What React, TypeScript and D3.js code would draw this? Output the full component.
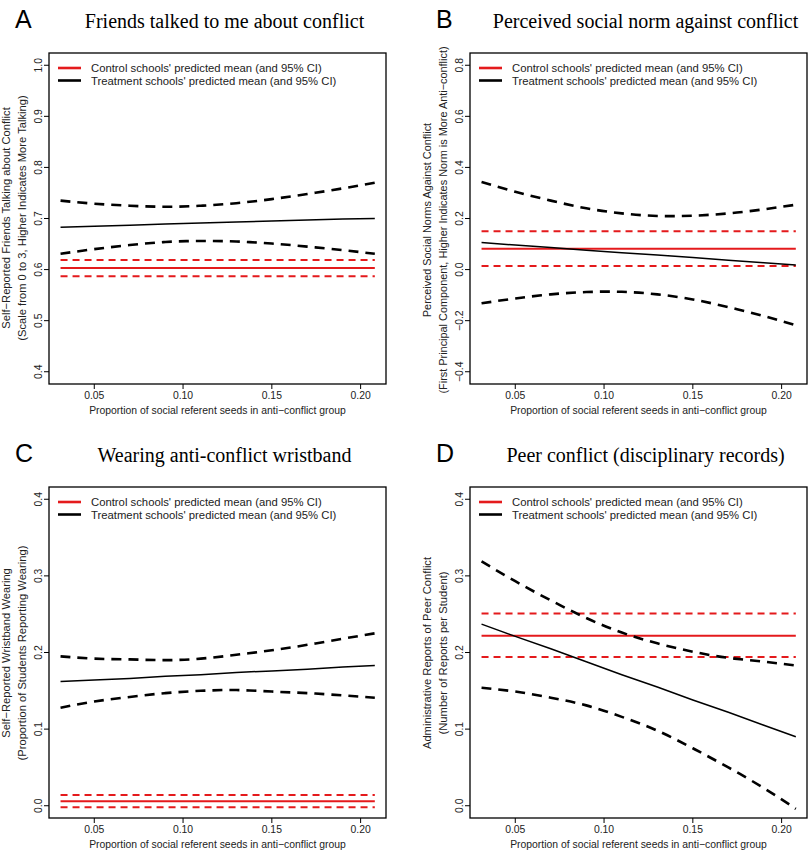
import React from "react";
import * as d3 from "d3";

// ---------- data ----------
const X_VALS = [0.031, 0.05, 0.07, 0.09, 0.11, 0.13, 0.15, 0.17, 0.19, 0.208];
const X_TICKS = [0.05, 0.1, 0.15, 0.2];
const X_TICK_LABELS = ["0.05", "0.10", "0.15", "0.20"];
const X_TITLE = "Proportion of social referent seeds in anti\u2212conflict group";
const LEGEND_LABELS = [
  "Control schools' predicted mean (and 95% CI)",
  "Treatment schools' predicted mean (and 95% CI)",
];

const A_MEAN = [0.683, 0.685, 0.687, 0.689, 0.691, 0.693, 0.695, 0.697, 0.699, 0.7];
const A_UPPER = [0.735, 0.729, 0.725, 0.723, 0.725, 0.73, 0.738, 0.748, 0.759, 0.77];
const A_LOWER = [0.631, 0.64, 0.648, 0.654, 0.656, 0.655, 0.651, 0.645, 0.638, 0.631];
const A_CONTROL = [0.603, 0.587, 0.619]; // mean, lower, upper
const A_TICKS = [0.4, 0.5, 0.6, 0.7, 0.8, 0.9, 1.0];
const A_TICK_LABELS = ["0.4", "0.5", "0.6", "0.7", "0.8", "0.9", "1.0"];

const B_MEAN = [0.106, 0.096, 0.086, 0.076, 0.066, 0.057, 0.047, 0.037, 0.027, 0.018];
const B_UPPER = [0.343, 0.305, 0.27, 0.24, 0.22, 0.21, 0.211, 0.22, 0.236, 0.254];
const B_LOWER = [-0.132, -0.113, -0.097, -0.088, -0.087, -0.097, -0.117, -0.147, -0.182, -0.218];
const B_CONTROL = [0.082, 0.014, 0.15];
const B_TICKS = [-0.4, -0.2, 0.0, 0.2, 0.4, 0.6, 0.8];
const B_TICK_LABELS = ["\u22120.4", "\u22120.2", "0.0", "0.2", "0.4", "0.6", "0.8"];

const C_MEAN = [0.162, 0.164, 0.166, 0.169, 0.171, 0.174, 0.176, 0.178, 0.181, 0.183];
const C_UPPER = [0.195, 0.192, 0.191, 0.19, 0.192, 0.197, 0.203, 0.21, 0.218, 0.225];
const C_LOWER = [0.128, 0.136, 0.142, 0.147, 0.15, 0.151, 0.149, 0.147, 0.144, 0.141];
const C_CONTROL = [0.006, -0.002, 0.014];
const C_TICKS = [0.0, 0.1, 0.2, 0.3, 0.4];
const C_TICK_LABELS = ["0.0", "0.1", "0.2", "0.3", "0.4"];

const D_MEAN = [0.237, 0.221, 0.205, 0.188, 0.171, 0.155, 0.138, 0.122, 0.105, 0.09];
const D_UPPER = [0.319, 0.293, 0.268, 0.245, 0.226, 0.212, 0.201, 0.193, 0.188, 0.183];
const D_LOWER = [0.154, 0.149, 0.141, 0.131, 0.116, 0.098, 0.075, 0.05, 0.023, -0.004];
const D_CONTROL = [0.222, 0.194, 0.251];
const D_TICKS = [0.0, 0.1, 0.2, 0.3, 0.4];
const D_TICK_LABELS = ["0.0", "0.1", "0.2", "0.3", "0.4"];

// ---------- layout ----------
const W = 810;
const H = 853;
const BOX_W = 337;
const BOX_H = 331;
const X_DOMAIN: [number, number] = [0.0245, 0.2143];

const SANS = "'Liberation Sans', Arial, Helvetica, sans-serif";
const SERIF = "'Liberation Serif', 'Times New Roman', serif";
const RED = "#e41a1c";

type PanelDef = {
  letter: string;
  title: string;
  ylab: [string, string];
  ylabSize: number;
  ylabCenter: number;
  yDomain: [number, number];
  yTicks: number[];
  yTickLabels: string[];
  mean: number[];
  upper: number[];
  lower: number[];
  control: number[];
  left: number;
  top: number;
};

const PANELS: PanelDef[] = [
  {
    letter: "A",
    title: "Friends talked to me about conflict",
    ylab: ["Self\u2212Reported Friends Talking about Conflict", "(Scale from 0 to 3, Higher Indicates More Talking)"],
    ylabSize: 11.2,
    ylabCenter: 218,
    yDomain: [0.376, 1.024],
    yTicks: A_TICKS,
    yTickLabels: A_TICK_LABELS,
    mean: A_MEAN,
    upper: A_UPPER,
    lower: A_LOWER,
    control: A_CONTROL,
    left: 49,
    top: 53,
  },
  {
    letter: "B",
    title: "Perceived social norm against conflict",
    ylab: ["Perceived Social Norms Against Conflict", "(First Principal Component, Higher Indicates Norm is More Anti\u2212conflict)"],
    ylabSize: 10.9,
    ylabCenter: 220,
    yDomain: [-0.448, 0.848],
    yTicks: B_TICKS,
    yTickLabels: B_TICK_LABELS,
    mean: B_MEAN,
    upper: B_UPPER,
    lower: B_LOWER,
    control: B_CONTROL,
    left: 470,
    top: 53,
  },
  {
    letter: "C",
    title: "Wearing anti-conflict wristband",
    ylab: ["Self\u2212Reported Wristband Wearing", "(Proportion of Students Reporting Wearing)"],
    ylabSize: 11.2,
    ylabCenter: 653,
    yDomain: [-0.016, 0.416],
    yTicks: C_TICKS,
    yTickLabels: C_TICK_LABELS,
    mean: C_MEAN,
    upper: C_UPPER,
    lower: C_LOWER,
    control: C_CONTROL,
    left: 49,
    top: 487,
  },
  {
    letter: "D",
    title: "Peer conflict (disciplinary records)",
    ylab: ["Administrative Reports of Peer Conflict", "(Number of Reports per Student)"],
    ylabSize: 11.2,
    ylabCenter: 653,
    yDomain: [-0.016, 0.416],
    yTicks: D_TICKS,
    yTickLabels: D_TICK_LABELS,
    mean: D_MEAN,
    upper: D_UPPER,
    lower: D_LOWER,
    control: D_CONTROL,
    left: 470,
    top: 487,
  },
];

function Panel({ p }: { p: PanelDef }) {
  const x = d3.scaleLinear().domain(X_DOMAIN).range([p.left, p.left + BOX_W]);
  const y = d3.scaleLinear().domain(p.yDomain).range([p.top + BOX_H, p.top]);
  const curved = d3
    .line<number>()
    .x((_, i) => x(X_VALS[i]))
    .y((v) => y(v))
    .curve(d3.curveNatural);
  const straight = d3
    .line<number>()
    .x((_, i) => x(X_VALS[i]))
    .y((v) => y(v));
  const flat = (v: number) => straight(X_VALS.map(() => v)) || "";
  const bottom = p.top + BOX_H;
  const cx = p.left + BOX_W / 2;
  return (
    <g>
      {/* panel letter and title */}
      <text x={p.left - 34} y={p.top - 25} fontFamily={SANS} fontSize={25}>
        {p.letter}
      </text>
      <text x={cx + 7} y={p.top - 25} fontFamily={SERIF} fontSize={20} textAnchor="middle">
        {p.title}
      </text>

      {/* control (red) */}
      <path d={flat(p.control[1])} fill="none" stroke={RED} strokeWidth={2} strokeDasharray="7,5" />
      <path d={flat(p.control[2])} fill="none" stroke={RED} strokeWidth={2} strokeDasharray="7,5" />
      <path d={flat(p.control[0])} fill="none" stroke={RED} strokeWidth={2} />

      {/* treatment (black) */}
      <path d={curved(p.upper) || ""} fill="none" stroke="#000" strokeWidth={2.6} strokeDasharray="10,7" />
      <path d={curved(p.lower) || ""} fill="none" stroke="#000" strokeWidth={2.6} strokeDasharray="10,7" />
      <path d={straight(p.mean) || ""} fill="none" stroke="#000" strokeWidth={1.5} />

      {/* box */}
      <rect x={p.left} y={p.top} width={BOX_W} height={BOX_H} fill="none" stroke="#000" strokeWidth={1.3} />

      {/* x axis */}
      {X_TICKS.map((t, i) => (
        <g key={"xt" + i}>
          <line x1={x(t)} x2={x(t)} y1={bottom} y2={bottom + 5} stroke="#000" strokeWidth={1} />
          <text x={x(t)} y={bottom + 15} fontFamily={SANS} fontSize={10.4} textAnchor="middle" fill="#222">
            {X_TICK_LABELS[i]}
          </text>
        </g>
      ))}
      <text x={cx} y={bottom + 30} fontFamily={SANS} fontSize={10.4} textAnchor="middle" fill="#222">
        {X_TITLE}
      </text>

      {/* y axis */}
      {p.yTicks.map((t, i) => (
        <g key={"yt" + i}>
          <line x1={p.left - 5} x2={p.left} y1={y(t)} y2={y(t)} stroke="#000" strokeWidth={1} />
          <text
            transform={`translate(${p.left - 7},${y(t)}) rotate(-90)`}
            fontFamily={SANS}
            fontSize={10.4}
            textAnchor="middle"
            fill="#222"
          >
            {p.yTickLabels[i]}
          </text>
        </g>
      ))}
      <text
        transform={`translate(${p.left - 39},${p.ylabCenter}) rotate(-90)`}
        fontFamily={SANS}
        fontSize={p.ylabSize}
        textAnchor="middle"
        fill="#222"
      >
        {p.ylab[0]}
      </text>
      <text
        transform={`translate(${p.left - 23},${p.ylabCenter}) rotate(-90)`}
        fontFamily={SANS}
        fontSize={p.ylabSize}
        textAnchor="middle"
        fill="#222"
      >
        {p.ylab[1]}
      </text>

      {/* legend */}
      {LEGEND_LABELS.map((lab, i) => (
        <g key={"lg" + i}>
          <line
            x1={p.left + 9}
            x2={p.left + 32}
            y1={p.top + 15 + i * 12.5}
            y2={p.top + 15 + i * 12.5}
            stroke={i === 0 ? RED : "#000"}
            strokeWidth={2.6}
          />
          <text x={p.left + 42} y={p.top + 19 + i * 12.5} fontFamily={SANS} fontSize={11.3} fill="#222">
            {lab}
          </text>
        </g>
      ))}
    </g>
  );
}

export default function App() {
  return (
    <svg
      width={W}
      height={H}
      viewBox={`0 0 ${W} ${H}`}
      style={{ position: "absolute", left: 0, top: 0, background: "#fff" }}
    >
      <rect x={0} y={0} width={W} height={H} fill="#fff" />
      {PANELS.map((p) => (
        <Panel key={p.letter} p={p} />
      ))}
    </svg>
  );
}
